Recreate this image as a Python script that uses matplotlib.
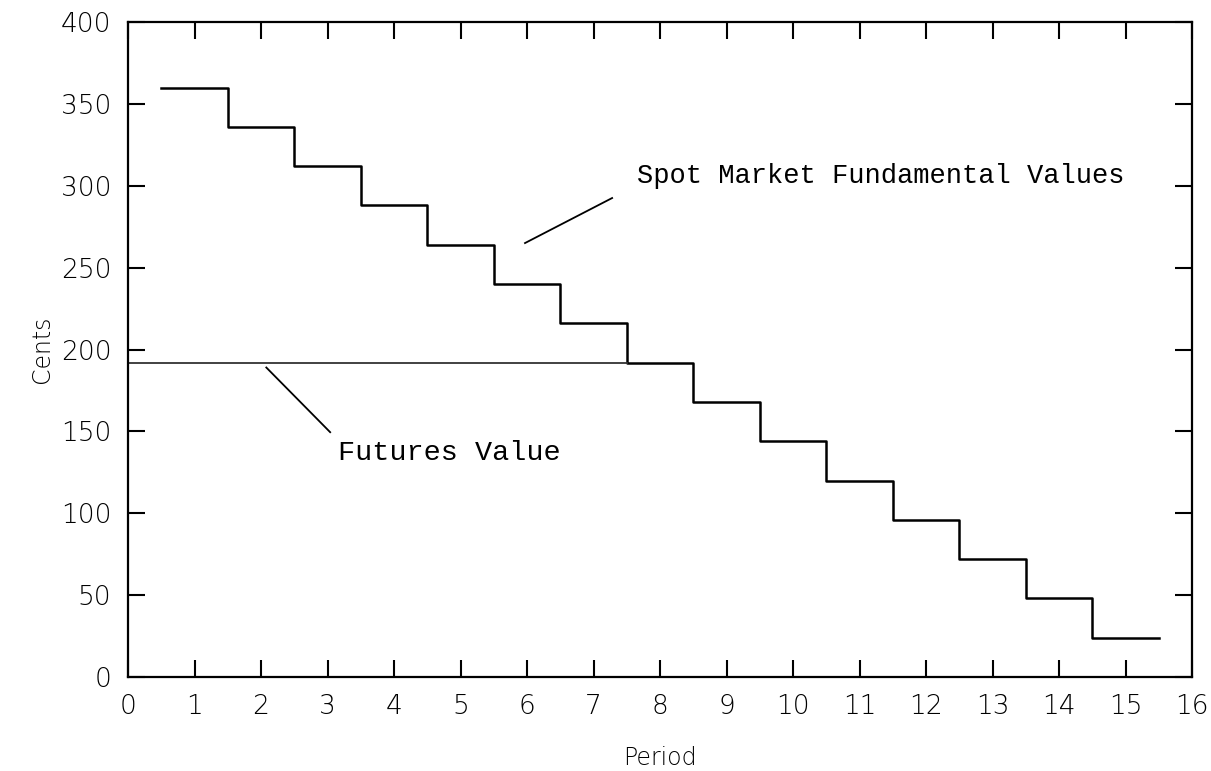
import matplotlib.pyplot as plt

periods = [1, 2, 3, 4, 5, 6, 7, 8, 9, 10, 11, 12, 13, 14, 15]
spot_values = [360, 336, 312, 288, 264, 240, 216, 192, 168, 144, 120, 96, 72, 48, 24]
futures_x = [0, 7.5]
futures_values = [192, 192]

fig = plt.figure(figsize=(12.11, 7.71), dpi=100)
ax = fig.add_axes([128 / 1211, 1 - 677 / 771, (1192 - 128) / 1211, (677 - 22) / 771])

# step line, each period spans p-0.5 .. p+0.5
sx = []
sy = []
for p, v in zip(periods, spot_values):
    sx += [p - 0.5, p + 0.5]
    sy += [v, v]
ax.plot(sx, sy, color='black', lw=1.8)
ax.plot(futures_x, futures_values, color='#333333', lw=1.3)

# annotation pointers
ax.plot([5.97, 7.28], [265, 292.5], color='black', lw=1.3)
ax.plot([2.08, 3.04], [189, 149.5], color='black', lw=1.3)
ax.text(7.65, 306, 'Spot Market Fundamental Values', family='Liberation Mono',
        fontsize=19.5, va='center', ha='left')
ax.text(3.16, 137, 'Futures Value', family='Liberation Mono',
        fontsize=20.5, va='center', ha='left')

ax.set_xlim(0, 16)
ax.set_ylim(0, 400)
ax.set_xticks(range(0, 17))
ax.set_yticks(range(0, 401, 50))
ax.tick_params(direction='in', length=12, width=1.5, top=True, right=True,
               labelsize=19, pad=12)
for lab in ax.get_xticklabels() + ax.get_yticklabels():
    lab.set_family('DejaVu Sans')
    lab.set_fontweight('light')
for s in ax.spines.values():
    s.set_linewidth(1.6)

ax.set_xlabel('Period', fontsize=17, labelpad=20, fontweight='light')
ax.set_ylabel('Cents', fontsize=17, labelpad=5, fontweight='light')

fig.savefig('out.png', dpi=100)
